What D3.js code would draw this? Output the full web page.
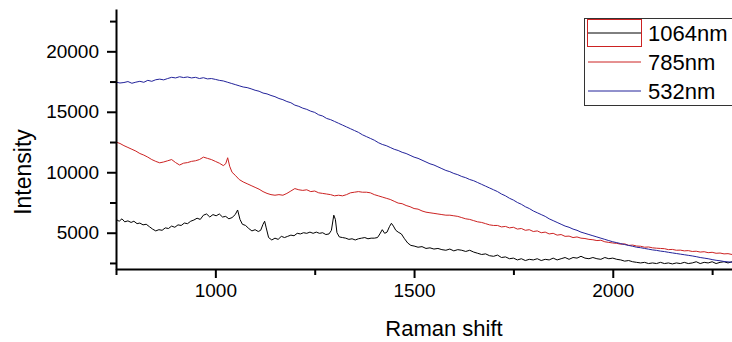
<!DOCTYPE html>
<html>
<head>
<meta charset="utf-8">
<script src="https://cdn.jsdelivr.net/npm/d3@7"></script>
<style>
  html, body { margin: 0; padding: 0; background: #fff; }
  svg { display: block; font-family: "Liberation Sans", Arial, sans-serif; }
</style>
</head>
<body>
<svg id="chart" width="732" height="342"></svg>
<script>
// ---- data ----
const seriesNames = ["1064nm", "785nm", "532nm"];
const xMajorTicks = [1000, 1500, 2000];
const xMinorTicks = [750, 1250, 1750, 2250];
const yMajorTicks = [5000, 10000, 15000, 20000];
const yMinorTicks = [2500, 7500, 12500, 17500, 22500];

const shift1064 = [750,758,765,772,780,788,795,803,810,818,826,834,842,850,858,866,874,882,890,898,906,914,922,930,938,946,954,962,970,978,986,994,1002,1010,1018,1026,1034,1042,1050,1056,1062,1068,1076,1084,1092,1100,1108,1114,1120,1124,1128,1134,1142,1150,1158,1166,1174,1182,1190,1198,1206,1214,1222,1230,1238,1246,1254,1262,1270,1278,1286,1292,1298,1302,1306,1312,1320,1328,1336,1344,1352,1360,1368,1376,1384,1392,1400,1408,1414,1420,1426,1432,1438,1443,1448,1454,1460,1468,1476,1484,1492,1500,1510,1520,1530,1540,1550,1560,1570,1580,1590,1600,1610,1620,1630,1640,1650,1660,1670,1680,1690,1700,1710,1720,1730,1740,1750,1760,1770,1780,1790,1800,1810,1820,1830,1840,1850,1860,1870,1880,1890,1900,1910,1920,1930,1940,1950,1960,1970,1980,1990,2000,2010,2020,2030,2040,2050,2060,2070,2080,2090,2100,2110,2120,2130,2140,2150,2160,2170,2180,2190,2200,2210,2220,2230,2240,2250,2260,2270,2280,2290,2300,2310];
const int1064 = [6100,5950,6150,5900,5980,5850,5950,5750,5800,5650,5700,5500,5300,5150,5250,5200,5400,5350,5550,5450,5650,5600,5800,5750,5950,6050,6200,6100,6450,6550,6300,6500,6400,6550,6300,6350,6150,6250,6500,6880,6100,5700,5600,5350,5150,5250,5100,5200,5700,5950,5400,4600,4400,4550,4450,4700,4600,4700,4800,4750,4950,4900,5000,4950,5050,4950,5050,4950,5000,4850,4900,5200,6450,6100,5000,4650,4600,4550,4450,4500,4400,4500,4550,4600,4500,4550,4550,4600,4900,5250,4950,5050,5500,5780,5550,5200,5050,4900,4500,4150,3950,3900,3800,3850,3700,3750,3650,3700,3600,3550,3650,3500,3600,3550,3450,3550,3400,3300,3200,3250,3100,3050,3150,2950,3000,2850,2900,2750,2850,2700,2800,2750,2850,2700,2800,2750,2900,2750,2850,2950,2800,2950,2900,3050,2900,2850,2950,2850,2800,2950,2850,2900,2800,2750,2650,2700,2600,2550,2500,2550,2450,2500,2450,2550,2450,2500,2420,2500,2450,2550,2450,2500,2600,2450,2550,2500,2600,2450,2550,2600,2500,2600,2550];

const shift785 = [750,760,770,780,790,800,810,820,830,840,850,860,870,880,890,900,910,920,930,940,950,960,970,980,990,1000,1010,1020,1026,1031,1036,1042,1050,1060,1070,1080,1090,1100,1110,1120,1130,1140,1150,1160,1170,1180,1190,1200,1210,1220,1230,1240,1250,1260,1270,1280,1290,1300,1310,1320,1330,1340,1350,1360,1370,1380,1390,1400,1410,1420,1430,1440,1450,1460,1470,1480,1490,1500,1510,1520,1530,1540,1550,1560,1570,1580,1590,1600,1610,1620,1630,1640,1650,1660,1670,1680,1690,1700,1710,1720,1730,1740,1750,1760,1770,1780,1790,1800,1810,1820,1830,1840,1850,1860,1870,1880,1890,1900,1910,1920,1930,1940,1950,1960,1970,1980,1990,2000,2010,2020,2030,2040,2050,2060,2070,2080,2090,2100,2110,2120,2130,2140,2150,2160,2170,2180,2190,2200,2210,2220,2230,2240,2250,2260,2270,2280,2290,2300,2310];
const int785 = [12500,12380,12200,12050,11900,11750,11550,11420,11250,11050,10900,10780,10850,10950,11050,10800,10600,10750,10800,10900,10950,11050,11250,11150,11050,10900,10750,10550,10700,11200,10500,10000,9750,9400,9200,9050,8900,8750,8600,8400,8250,8150,8100,8150,8100,8250,8450,8650,8550,8500,8550,8400,8450,8300,8250,8200,8150,8050,8100,8050,8150,8300,8350,8400,8350,8350,8300,8150,8050,7950,7850,7750,7600,7450,7400,7250,7150,7000,6950,6800,6700,6650,6600,6550,6500,6450,6450,6400,6350,6250,6150,6100,6000,5900,5850,5750,5650,5600,5600,5480,5520,5400,5450,5300,5350,5200,5250,5100,5150,5000,5050,4900,4950,4800,4850,4700,4720,4600,4650,4550,4520,4450,4420,4350,4380,4250,4200,4150,4120,4050,4080,3950,3980,3900,3880,3800,3820,3750,3720,3700,3680,3600,3620,3550,3560,3500,3520,3450,3470,3400,3430,3350,3380,3300,3320,3250,3270,3200,3150];

const shift532 = [750,760,770,780,790,800,810,820,830,840,850,860,870,880,890,900,910,920,930,940,950,960,970,980,990,1000,1010,1020,1030,1040,1050,1060,1070,1080,1090,1100,1110,1120,1130,1140,1150,1160,1170,1180,1190,1200,1210,1220,1230,1240,1250,1260,1270,1280,1290,1300,1310,1320,1330,1340,1350,1360,1370,1380,1390,1400,1410,1420,1430,1440,1450,1460,1470,1480,1490,1500,1510,1520,1530,1540,1550,1560,1570,1580,1590,1600,1610,1620,1630,1640,1650,1660,1670,1680,1690,1700,1710,1720,1730,1740,1750,1760,1770,1780,1790,1800,1810,1820,1830,1840,1850,1860,1870,1880,1890,1900,1910,1920,1930,1940,1950,1960,1970,1980,1990,2000,2010,2020,2030,2040,2050,2060,2070,2080,2090,2100,2110,2120,2130,2140,2150,2160,2170,2180,2190,2200,2210,2220,2230,2240,2250,2260,2270,2280,2290,2300,2310];
const int532 = [17450,17380,17420,17500,17360,17450,17520,17440,17600,17520,17650,17700,17640,17750,17850,17800,17900,17830,17880,17800,17850,17750,17820,17720,17750,17680,17600,17550,17450,17350,17250,17150,17050,17000,16900,16780,16700,16550,16480,16350,16250,16100,16000,15850,15750,15550,15450,15300,15200,15050,14950,14750,14650,14450,14350,14200,14050,13900,13750,13600,13450,13300,13100,12950,12800,12650,12450,12300,12200,12050,11900,11800,11650,11550,11400,11250,11150,11000,10850,10700,10600,10450,10300,10150,10050,9900,9800,9650,9550,9400,9300,9150,9000,8850,8700,8550,8400,8200,8050,7850,7700,7500,7350,7150,7000,6800,6650,6500,6350,6150,6000,5850,5700,5550,5450,5300,5200,5050,4950,4850,4750,4650,4550,4450,4350,4250,4180,4100,4020,3950,3880,3800,3760,3700,3640,3580,3540,3480,3440,3380,3330,3280,3230,3180,3130,3080,3020,2950,2900,2850,2780,2720,2680,2620,2590,2560,2540,2520,2510,2500];

const colors = ["#000000", "#cc2222", "#22229a"];

// ---- layout ----
const svg = d3.select("#chart");
const plotLeft = 116, plotRight = 732, plotTop = 9, plotBottom = 269;

const x = d3.scaleLinear().domain([750, 2300]).range([plotLeft, plotRight]);
const y = d3.scaleLinear().domain([2000, 23500]).range([plotBottom, plotTop]);

svg.append("defs").append("clipPath").attr("id", "plotclip")
  .append("rect").attr("x", plotLeft).attr("y", plotTop - 2)
  .attr("width", plotRight - plotLeft).attr("height", plotBottom - plotTop + 2);

const series = [
  {name: seriesNames[0], xs: shift1064, ys: int1064, color: colors[0]},
  {name: seriesNames[1], xs: shift785, ys: int785, color: colors[1]},
  {name: seriesNames[2], xs: shift532, ys: int532, color: colors[2]}
];

const line = d3.line().x(d => x(d[0])).y(d => y(d[1]));
const g = svg.append("g").attr("clip-path", "url(#plotclip)");
series.forEach(s => {
  g.append("path")
    .datum(s.xs.map((v, i) => [v, s.ys[i]]))
    .attr("d", line)
    .attr("fill", "none")
    .attr("stroke", s.color)
    .attr("stroke-width", 1)
    .attr("stroke-linejoin", "round");
});

// ---- axes ----
const axisStyle = sel => {
  sel.selectAll("path.domain").attr("stroke", "#000").attr("stroke-width", 2);
  sel.selectAll(".tick line").attr("stroke", "#000").attr("stroke-width", 2);
  sel.selectAll(".tick text").attr("fill", "#000")
    .style("font-family", "'Liberation Sans', Arial, sans-serif").style("font-size", "19px");
};

// x axis
const gx = svg.append("g").attr("transform", `translate(0,${plotBottom})`)
  .call(d3.axisBottom(x).tickValues(xMajorTicks).tickSize(9).tickSizeOuter(0).tickPadding(6).tickFormat(d3.format("d")));
axisStyle(gx);
const gxm = svg.append("g").attr("transform", `translate(0,${plotBottom})`)
  .call(d3.axisBottom(x).tickValues(xMinorTicks).tickSize(6).tickFormat(""));
gxm.select("path.domain").remove();
axisStyle(gxm);

// y axis
const gy = svg.append("g").attr("transform", `translate(${plotLeft},0)`)
  .call(d3.axisLeft(y).tickValues(yMajorTicks).tickSize(9).tickSizeOuter(0).tickPadding(8).tickFormat(d3.format("d")));
axisStyle(gy);
const gym = svg.append("g").attr("transform", `translate(${plotLeft},0)`)
  .call(d3.axisLeft(y).tickValues(yMinorTicks).tickSize(6).tickFormat(""));
gym.select("path.domain").remove();
axisStyle(gym);

// axis titles
svg.append("text")
  .attr("x", 444).attr("y", 336)
  .attr("text-anchor", "middle")
  .style("font-size", "22px").attr("fill", "#000")
  .text("Raman shift");
svg.append("text")
  .attr("transform", "translate(31,172) rotate(-90)")
  .attr("text-anchor", "middle")
  .style("font-size", "23px").attr("fill", "#000")
  .text("Intensity");

// ---- legend ----
const lg = svg.append("g");
lg.append("rect")
  .attr("x", 584.5).attr("y", 18.5).attr("width", 160).attr("height", 87)
  .attr("fill", "#fff").attr("stroke", "#333").attr("stroke-width", 1);
lg.append("rect")
  .attr("x", 587.5).attr("y", 19.5).attr("width", 54).attr("height", 27)
  .attr("fill", "none").attr("stroke", "#cc2222").attr("stroke-width", 1);
const legendY = [33, 62, 91];
series.forEach((s, i) => {
  lg.append("line")
    .attr("x1", 588).attr("x2", 641)
    .attr("y1", legendY[i]).attr("y2", legendY[i])
    .attr("stroke", s.color).attr("stroke-width", 1);
  lg.append("text")
    .attr("x", 648).attr("y", legendY[i])
    .attr("dy", "0.36em")
    .style("font-size", "22px").attr("fill", "#000")
    .text(s.name);
});
</script>
</body>
</html>
